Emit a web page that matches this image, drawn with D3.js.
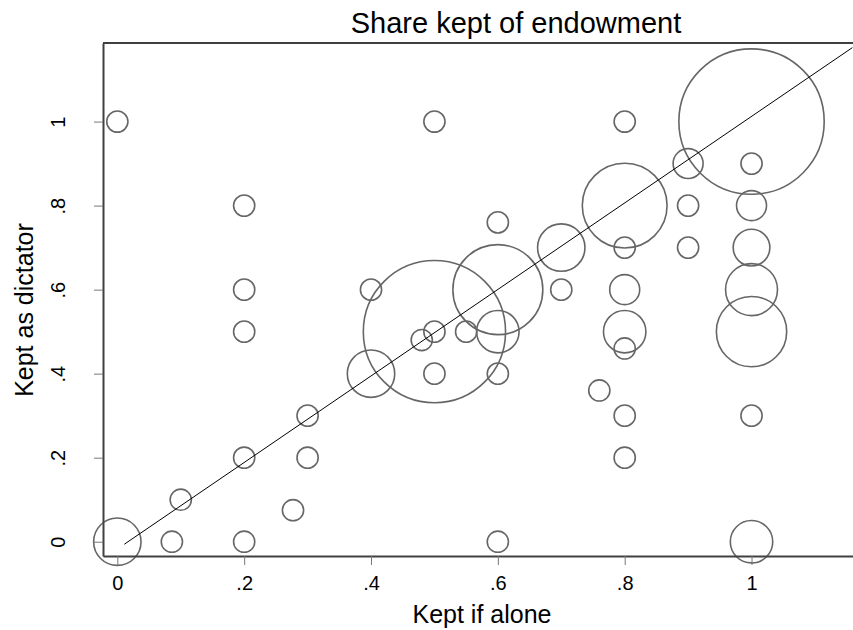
<!DOCTYPE html>
<html>
<head>
<meta charset="utf-8">
<script src="https://cdn.jsdelivr.net/npm/d3@7"></script>
<style>
	body { margin: 0; background: #fff; }
	text { font-family: "Liberation Sans", Arial, sans-serif; fill: #000; }
</style>
</head>
<body>
<div id="graph"></div>
<script>

// Kept if alone (x), kept as dictator (y), number of subjects (bubble weight)
const keptAlone    = [0, 0, 0.086, 0.1, 0.2, 0.2, 0.2, 0.2, 0.2, 0.277, 0.3, 0.3, 0.4, 0.4,
	0.48, 0.5, 0.5, 0.5, 0.5, 0.55, 0.6, 0.6, 0.6, 0.6, 0.6, 0.7, 0.7, 0.76,
	0.8, 0.8, 0.8, 0.8, 0.8, 0.8, 0.8, 0.8, 0.9, 0.9, 0.9, 1, 1, 1, 1, 1, 1, 1, 1];
const keptDictator = [1, 0, 0, 0.1, 0.8, 0.6, 0.5, 0.2, 0, 0.075, 0.3, 0.2, 0.6, 0.4,
	0.48, 1, 0.5, 0.5, 0.4, 0.5, 0.76, 0.6, 0.5, 0.4, 0, 0.7, 0.6, 0.36,
	1, 0.8, 0.7, 0.6, 0.5, 0.46, 0.3, 0.2, 0.9, 0.8, 0.7, 1, 0.9, 0.8, 0.7, 0.6, 0.5, 0.3, 0];
const weight       = [1, 5, 1, 1, 1, 1, 1, 1, 1, 1, 1, 1, 1, 5,
	1, 1, 1, 45, 1, 1, 1, 18, 4, 1, 1, 5, 1, 1,
	1, 16, 1, 2, 4, 1, 1, 1, 2, 1, 1, 47, 1, 2, 3, 6, 11, 1, 4];

// reference line endpoints
const lineX = [0.011, 1.159];
const lineY = [-0.006, 1.176];

const xTicks = [0, 0.2, 0.4, 0.6, 0.8, 1];
const yTicks = [0, 0.2, 0.4, 0.6, 0.8, 1];
const tickLabel = d => d === 0 ? "0" : d === 1 ? "1" : String(d).replace("0.", ".");

const data = keptAlone.map((d, i) => ({ x: d, y: keptDictator[i], n: weight[i] }));

var width = 853, height = 630;
var margin = { top: 43, right: 0, bottom: 74, left: 103 };

var svg = d3.select("#graph")
	.append("svg")
	.attr("width", width)
	.attr("height", height);

var x = d3.scaleLinear()
	.domain([-0.0226, 1.160])
	.range([margin.left, width - margin.right]);

var y = d3.scaleLinear()
	.domain([-0.034, 1.187])
	.range([height - margin.bottom, margin.top]);

var r = d3.scaleSqrt()
	.domain([0, 1])
	.range([0, 10.6]);

// bubbles
svg.append("g")
	.selectAll("circle")
	.data(data)
	.enter().append("circle")
	.attr("cx", d => x(d.x))
	.attr("cy", d => y(d.y))
	.attr("r", d => r(d.n))
	.attr("fill", "none")
	.attr("stroke", "#666")
	.attr("stroke-width", 1.6);

// fitted line
svg.append("path")
	.datum(lineX.map((d, i) => [d, lineY[i]]))
	.attr("fill", "none")
	.attr("stroke", "#000")
	.attr("stroke-width", 1)
	.attr("d", d3.line().x(d => x(d[0])).y(d => y(d[1])));

// X axis
var xAxis = svg.append("g")
	.attr("transform", "translate(0," + (height - margin.bottom) + ")")
	.call(d3.axisBottom(x).tickValues(xTicks).tickFormat(tickLabel).tickSizeInner(9).tickSizeOuter(0).tickPadding(11));
xAxis.select(".domain").attr("stroke", "#404040").attr("stroke-width", 2);
xAxis.selectAll(".tick line").attr("stroke", "#777");
xAxis.selectAll(".tick text").style("font-size", "20px");

// Y axis, labels turned like Stata's
var yAxis = svg.append("g")
	.attr("transform", "translate(" + margin.left + ",0)")
	.call(d3.axisLeft(y).tickValues(yTicks).tickFormat(tickLabel).tickSizeInner(9).tickSizeOuter(0));
yAxis.select(".domain").attr("stroke", "#404040").attr("stroke-width", 2);
yAxis.selectAll(".tick line").attr("stroke", "#777");
yAxis.selectAll(".tick text")
	.style("font-size", "20px")
	.attr("x", null).attr("dy", null)
	.attr("text-anchor", "middle")
	.attr("transform", "translate(-38,0) rotate(-90)");

// top border
svg.append("line")
	.attr("x1", margin.left).attr("x2", width)
	.attr("y1", margin.top).attr("y2", margin.top)
	.attr("stroke", "#404040").attr("stroke-width", 2);

// titles
svg.append("text")
	.attr("x", 516).attr("y", 33)
	.attr("text-anchor", "middle")
	.style("font-size", "29px")
	.text("Share kept of endowment");

svg.append("text")
	.attr("x", 482).attr("y", 623)
	.attr("text-anchor", "middle")
	.style("font-size", "25px")
	.text("Kept if alone");

svg.append("text")
	.attr("transform", "translate(33,310) rotate(-90)")
	.attr("text-anchor", "middle")
	.style("font-size", "25px")
	.text("Kept as dictator");

</script>
</body>
</html>
